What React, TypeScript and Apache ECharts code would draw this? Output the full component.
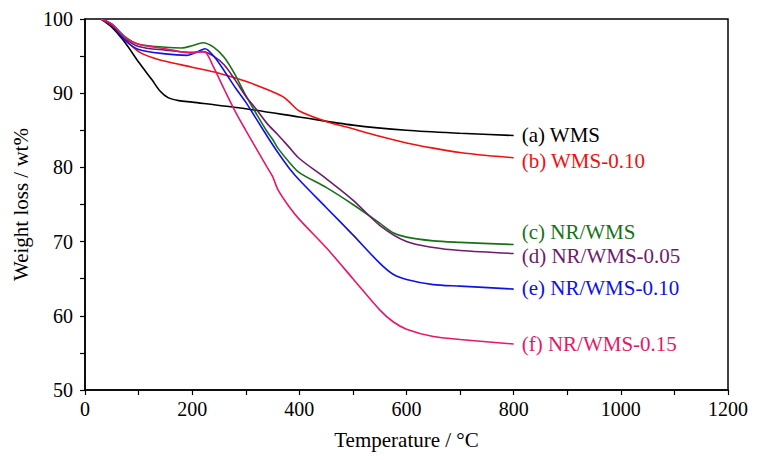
import { useEffect, useRef } from "react";
import * as echarts from "echarts";

// [temperature °C, weight %]
const wms = [
  [30, 100], [50, 98.9], [75, 96.8], [100, 94.2], [125, 91.8], [140, 90.3], [155, 89.4],
  [175, 89.0], [200, 88.8], [300, 87.9], [400, 86.8], [500, 85.7], [600, 85.0], [700, 84.6], [800, 84.3],
];
const wms010 = [
  [30, 100], [50, 99.1], [75, 97.2], [100, 95.6], [125, 94.8], [150, 94.3], [200, 93.5], [250, 92.7],
  [300, 91.6], [340, 90.5], [370, 89.5], [380, 88.9], [400, 87.6], [450, 86.2], [500, 85.2], [550, 84.2],
  [600, 83.3], [650, 82.6], [700, 82.0], [750, 81.6], [800, 81.3],
];
const nrWms = [
  [30, 100], [50, 99.3], [75, 97.6], [100, 96.6], [150, 96.2], [180, 96.1], [200, 96.4], [220, 96.8],
  [240, 96.2], [260, 94.8], [280, 92.5], [300, 89.7], [320, 87.2], [340, 84.8], [350, 83.8], [360, 82.6],
  [380, 80.8], [400, 79.3], [450, 77.3], [500, 75.0], [550, 72.5], [575, 71.2], [600, 70.6], [650, 70.1],
  [700, 69.9], [800, 69.6],
];
const nrWms005 = [
  [30, 100], [50, 99.3], [75, 97.4], [100, 96.3], [150, 95.8], [200, 95.5], [220, 95.6], [240, 95.0],
  [260, 93.8], [280, 91.8], [300, 89.6], [320, 87.8], [340, 85.9], [360, 84.4], [380, 82.8], [400, 81.2],
  [450, 78.5], [500, 75.6], [550, 72.2], [600, 70.0], [650, 69.2], [700, 68.8], [800, 68.4],
];
const nrWms010 = [
  [30, 100], [50, 99.2], [75, 97.1], [100, 95.9], [150, 95.3], [190, 95.1], [210, 95.6], [224, 96.0],
  [240, 95.0], [260, 93.0], [280, 90.8], [300, 88.8], [320, 86.5], [340, 84.2], [360, 82.0], [380, 80.0],
  [400, 78.3], [450, 74.6], [500, 70.9], [550, 67.1], [575, 65.6], [600, 64.9], [650, 64.2], [700, 64.0],
  [800, 63.6],
];
const nrWms015 = [
  [30, 100], [50, 99.3], [75, 97.5], [100, 96.6], [150, 96.0], [200, 95.4], [215, 95.6], [225, 95.5],
  [240, 93.5], [260, 90.5], [280, 87.6], [300, 85.0], [320, 82.5], [340, 80.0], [350, 78.8], [360, 77.0],
  [380, 74.8], [400, 73.0], [450, 69.2], [500, 65.0], [550, 60.8], [575, 59.2], [600, 58.2], [650, 57.2],
  [700, 56.8], [800, 56.2],
];

const names = ["(a) WMS", "(b) WMS-0.10", "(c) NR/WMS", "(d) NR/WMS-0.05", "(e) NR/WMS-0.10", "(f) NR/WMS-0.15"];
const colors = ["#000000", "#f01010", "#177217", "#6b1d6b", "#1010e8", "#e8176a"];
const curves = [wms, wms010, nrWms, nrWms005, nrWms010, nrWms015];
// label nudges so (c) and (d) do not collide
const labelDy = [0, 3, -13, 3, -1, 0];

const FONT = "'Liberation Serif', 'Times New Roman', serif";

export default function App() {
  const ref = useRef<HTMLDivElement>(null);

  useEffect(() => {
    document.body.style.margin = "0";
    if (!ref.current) return;
    const chart = echarts.init(ref.current, undefined, { renderer: "svg" });
    const tickText = { color: "#000", fontFamily: FONT, fontSize: 20 };
    const nameText = { color: "#000", fontFamily: FONT, fontSize: 21 };
    const tickLine = { color: "#000", width: 1.2 };
    chart.setOption({
      animation: false,
      backgroundColor: "#fff",
      grid: {
        left: 85, right: 29, top: 19, bottom: 70,
        show: true, borderColor: "#000", borderWidth: 1.5,
      },
      xAxis: {
        type: "value",
        min: 0,
        max: 1200,
        interval: 200,
        name: "Temperature / °C",
        nameLocation: "middle",
        nameGap: 39,
        nameTextStyle: nameText,
        axisLine: { lineStyle: { color: "#000", width: 1.5 } },
        axisTick: { inside: false, length: 5, lineStyle: tickLine },
        minorTick: { show: true, splitNumber: 2, length: 5, lineStyle: tickLine },
        axisLabel: { ...tickText, margin: 9, formatter: (v: number) => String(v) },
        splitLine: { show: false },
      },
      yAxis: {
        type: "value",
        min: 50,
        max: 100,
        interval: 10,
        name: "Weight loss / wt%",
        nameLocation: "middle",
        nameGap: 54,
        nameTextStyle: nameText,
        axisLine: { show: true, lineStyle: { color: "#000", width: 1.5 } },
        axisTick: { show: true, inside: false, length: 5, lineStyle: tickLine },
        minorTick: { show: true, splitNumber: 2, length: 5, lineStyle: tickLine },
        axisLabel: { ...tickText, margin: 12 },
        splitLine: { show: false },
      },
      series: curves.map((d, i) => ({
        type: "line",
        name: names[i],
        data: d,
        smooth: 0.3,
        showSymbol: false,
        lineStyle: { color: colors[i], width: 1.6 },
        endLabel: {
          show: true,
          formatter: names[i],
          color: colors[i],
          fontFamily: FONT,
          fontSize: 21,
          lineHeight: 19,
          distance: 8,
          offset: [0, labelDy[i]],
        },
      })),
    });
    return () => chart.dispose();
  }, []);

  return <div ref={ref} style={{ width: 757, height: 460 }} />;
}
